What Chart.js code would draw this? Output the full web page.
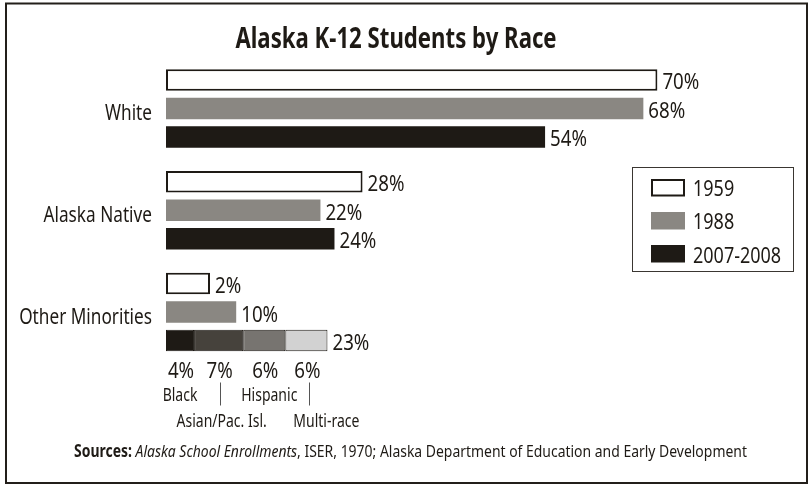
<!DOCTYPE html>
<html><head><meta charset="utf-8">
<script src="https://cdn.jsdelivr.net/npm/chart.js@4.4.1/dist/chart.umd.min.js"></script>
<style>html,body{margin:0;padding:0;background:#fff}#wrap{width:812px;height:485px;position:relative}</style>
</head><body><div id="wrap"><canvas id="c" width="812" height="485"></canvas></div>
<script>
// ---- data ----
const categories = ['White', 'Alaska Native', 'Other Minorities'];
const seriesNames = ['1959', '1988', '2007-2008'];
const values1959 = [70, 28, 2];
const values1988 = [68, 22, 10];
const values2007 = [54, 24, 23];
const minorityNames = ['Black', 'Asian/Pac. Isl.', 'Hispanic', 'Multi-race'];
const minority2007 = [4, 7, 6, 6];
const titleText = 'Alaska K-12 Students by Race';
const sourceBold = 'Sources: ';
const sourceItalic = 'Alaska School Enrollments';
const sourceRest = ', ISER, 1970; Alaska Department of Education and Early Development';

// ---- style ----
const INK = '#1e1a15';
const GRAY = '#8a8782';
const segColors = ['#1e1a15', '#46423c', '#777470', '#d2d2d2'];
const FAMILY = '"Noto Sans","Open Sans",sans-serif';
const SX = 0.78; // horizontal condensing of text
const breakdownIndex = categories.indexOf('Other Minorities');

function txt(ctx, s, x, y, size, o) {
  o = o || {};
  const sx = o.sx || SX;
  ctx.save();
  ctx.font = (o.style || 'normal') + ' ' + (o.weight || 'normal') + ' ' + size + 'px ' + FAMILY;
  const w = ctx.measureText(s).width * sx;
  const left = o.align === 'center' ? x - w / 2 : o.align === 'right' ? x - w : x;
  ctx.translate(left, y);
  ctx.scale(sx, 1);
  ctx.textAlign = 'left';
  ctx.textBaseline = 'alphabetic';
  ctx.fillStyle = o.color || INK;
  if (!o.measureOnly) ctx.fillText(s, 0, 0);
  ctx.restore();
  return w;
}

const datasets = [
  { label: seriesNames[0], data: values1959, stack: 's0', backgroundColor: '#ffffff',
    borderColor: INK, borderWidth: 2, borderSkipped: false, minBarLength: 44 },
  { label: seriesNames[1], data: values1988, stack: 's1', backgroundColor: GRAY, borderWidth: 0 },
  { label: seriesNames[2], data: values2007.map((v, i) => i === breakdownIndex ? null : v),
    stack: 's2', backgroundColor: INK, borderWidth: 0 }
];
minority2007.forEach((v, k) => {
  datasets.push({
    label: minorityNames[k],
    data: categories.map((c, i) => i === breakdownIndex ? v : null),
    stack: 's2', backgroundColor: segColors[k], borderColor: INK, borderWidth: 1,
    borderSkipped: false
  });
});

const nameOffsets = [0, 3, 5, 20];
const lineOffsets = [0, 1.5, 0, 2.5];

const decor = {
  id: 'decor',
  afterDraw(chart) {
    const ctx = chart.ctx;
    ctx.save();
    // outer frame
    ctx.strokeStyle = '#231f1a';
    ctx.lineWidth = 2;
    ctx.strokeRect(6, 3.5, 801, 479.5);
    // title
    txt(ctx, titleText, 396, 48, 29, { weight: 'bold', align: 'center', sx: 0.765 });

    // category labels from the y scale
    const ys = chart.scales.y;
    categories.forEach((c, i) => {
      txt(ctx, c, ys.right - 14, ys.getPixelForValue(i) + 11.5, 22.5, { align: 'right', sx: 0.765 });
    });

    // value labels
    for (let d = 0; d < 3; d++) {
      const vals = [values1959, values1988, values2007][d];
      const meta = chart.getDatasetMeta(d);
      categories.forEach((c, i) => {
        let bar = meta.data[i];
        if (d === 2 && i === breakdownIndex) {
          bar = chart.getDatasetMeta(3 + minority2007.length - 1).data[i];
        }
        txt(ctx, vals[i] + '%', bar.x + 5, bar.y + 9.5, 22.5, { sx: 0.83 });
      });
    }
    // breakdown labels
    minority2007.forEach((v, k) => {
      const bar = chart.getDatasetMeta(3 + k).data[breakdownIndex];
      const cx = (bar.base + bar.x) / 2;
      txt(ctx, v + '%', cx + 1, bar.y + 37, 22.5, { align: 'center', sx: 0.83 });
      const row = k % 2;
      txt(ctx, minorityNames[k], cx + nameOffsets[k], bar.y + (row ? 86 : 60), 17.5, { align: 'center', sx: 0.8 });
      if (row) {
        ctx.strokeStyle = '#555';
        ctx.lineWidth = 1;
        ctx.beginPath();
        const lx = Math.round(cx + lineOffsets[k]) + 0.5;
        ctx.moveTo(lx, bar.y + 42);
        ctx.lineTo(lx, bar.y + 65);
        ctx.stroke();
      }
    });

    // legend
    ctx.strokeStyle = '#3a3631';
    ctx.lineWidth = 1;
    ctx.strokeRect(632.5, 167.5, 161, 104);
    for (let d = 0; d < 3; d++) {
      const ds = chart.data.datasets[d];
      const top = 179 + 33 * d;
      ctx.fillStyle = ds.backgroundColor;
      ctx.fillRect(651, top, 34, 17.5);
      if (ds.borderWidth) {
        ctx.strokeStyle = ds.borderColor;
        ctx.lineWidth = 2;
        ctx.strokeRect(652, top + 1, 32, 15.5);
      }
      txt(ctx, ds.label, 693, 196 + 33.3 * d, 22.5, { sx: 0.8 });
    }

    // sources
    const so = { sx: 0.82 };
    const w1 = txt(ctx, sourceBold, 0, 0, 17, { weight: 'bold', measureOnly: true, sx: 0.82 });
    const w2 = txt(ctx, sourceItalic, 0, 0, 17, { style: 'italic', measureOnly: true, sx: 0.82 });
    const w3 = txt(ctx, sourceRest, 0, 0, 17, { measureOnly: true, sx: 0.82 });
    let sx = 410.5 - (w1 + w2 + w3) / 2;
    const sy = 457;
    txt(ctx, sourceBold, sx, sy, 17, { weight: 'bold', sx: 0.82 }); sx += w1;
    txt(ctx, sourceItalic, sx, sy, 17, { style: 'italic', sx: 0.82 }); sx += w2;
    txt(ctx, sourceRest, sx, sy, 17, so);
    ctx.restore();
  }
};

new Chart(document.getElementById('c'), {
  type: 'bar',
  data: { labels: categories, datasets },
  options: {
    indexAxis: 'y',
    responsive: false,
    animation: false,
    layout: { padding: { top: 57.6, bottom: 122.1, left: 0, right: 14.2 } },
    datasets: { bar: { categoryPercentage: 0.84, barPercentage: 0.76 } },
    scales: {
      x: { display: false, stacked: true, min: 0, max: 90 },
      y: {
        stacked: true,
        grid: { display: false, drawTicks: false },
        border: { display: false },
        ticks: { display: false },
        afterFit(scale) { scale.width = 166; }
      }
    },
    plugins: { legend: { display: false }, tooltip: { enabled: false }, title: { display: false } }
  },
  plugins: [decor]
});
</script>
</body></html>
